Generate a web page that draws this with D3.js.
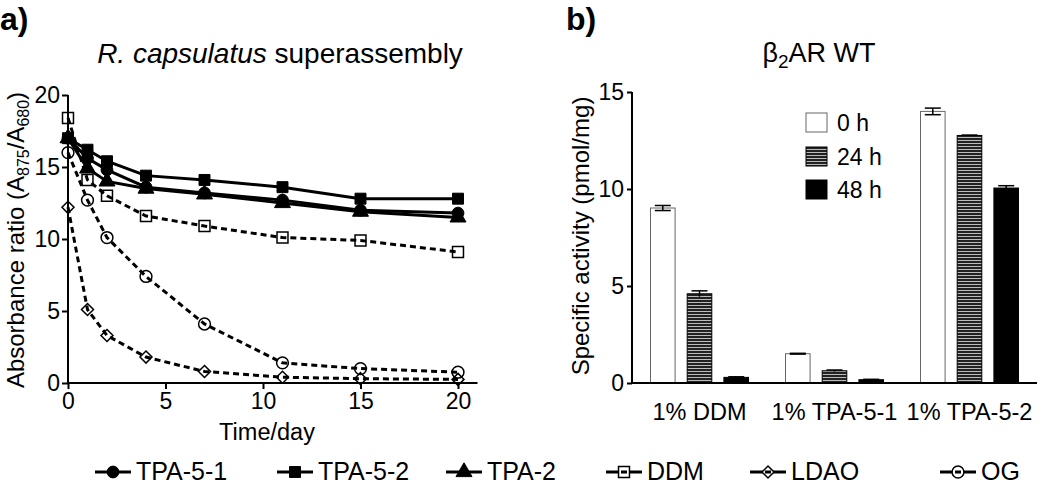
<!DOCTYPE html>
<html>
<head>
<meta charset="utf-8">
<script src="https://cdn.jsdelivr.net/npm/d3@7"></script>
<style>
  body { margin: 0; background: #fff; }
  svg text { font-family: "Liberation Sans", Arial, sans-serif; fill: #000; }
</style>
</head>
<body>
<div id="chart"></div>
<script>
// panel a data
var days = [0, 1, 2, 4, 7, 11, 15, 20];
var tpa51 = [17.0, 15.6, 14.8, 13.6, 13.2, 12.7, 12.0, 11.8];
var tpa52 = [17.0, 16.2, 15.4, 14.4, 14.1, 13.6, 12.8, 12.8];
var tpa2 = [17.0, 14.9, 14.0, 13.5, 13.1, 12.5, 11.9, 11.5];
var ddm = [18.4, 14.1, 13.0, 11.6, 10.9, 10.1, 9.9, 9.1];
var ldao = [12.2, 5.1, 3.3, 1.8, 0.8, 0.4, 0.3, 0.25];
var og = [16.0, 12.7, 10.1, 7.4, 4.1, 1.4, 1.0, 0.75];
var seriesNames = ["TPA-5-1", "TPA-5-2", "TPA-2", "DDM", "LDAO", "OG"];
var xTicksA = [0, 5, 10, 15, 20];
var yTicksA = [0, 5, 10, 15, 20];

// panel b data
var groups = ["1% DDM", "1% TPA-5-1", "1% TPA-5-2"];
var times = ["0 h", "24 h", "48 h"];
var act0 = [9.02, 1.51, 14.0], err0 = [0.13, 0.02, 0.17];
var act24 = [4.6, 0.63, 12.76], err24 = [0.15, 0.04, 0.02];
var act48 = [0.29, 0.17, 10.05], err48 = [0.03, 0.02, 0.12];
var yTicksB = [0, 5, 10, 15];

var svg = d3.select("#chart").append("svg")
  .attr("width", 1050).attr("height", 486);

var defs = svg.append("defs");
var pat = defs.append("pattern")
  .attr("id", "stripes").attr("patternUnits", "userSpaceOnUse")
  .attr("width", 6).attr("height", 3);
pat.append("rect").attr("width", 6).attr("height", 3).attr("fill", "#222");
pat.append("rect").attr("y", 2).attr("width", 6).attr("height", 1).attr("fill", "#bbb");

// ---------- panel a ----------
var series = [
  {name: seriesNames[0], vals: tpa51, shape: "circle", open: false},
  {name: seriesNames[1], vals: tpa52, shape: "square", open: false},
  {name: seriesNames[2], vals: tpa2, shape: "triangle", open: false},
  {name: seriesNames[3], vals: ddm, shape: "square", open: true},
  {name: seriesNames[4], vals: ldao, shape: "diamond", open: true},
  {name: seriesNames[5], vals: og, shape: "circle", open: true}
];

var x = d3.scaleLinear().domain([0, 21]).range([68, 477.5]);
var y = d3.scaleLinear().domain([0, 20]).range([383, 95]);

// wide diamond (square turned 45deg), d3's own diamond is too thin
var wideDiamond = {
  draw: function(ctx, size) {
    var r = Math.sqrt(size / 2);
    ctx.moveTo(0, -r); ctx.lineTo(r, 0); ctx.lineTo(0, r); ctx.lineTo(-r, 0); ctx.closePath();
  }
};
var symSize = {circle: 110, square: 120, triangle: 110, diamond: 72};
function sym(shape) {
  var t = {circle: d3.symbolCircle, square: d3.symbolSquare,
    triangle: d3.symbolTriangle, diamond: wideDiamond}[shape];
  return d3.symbol().type(t).size(symSize[shape])();
}

var ga = svg.append("g");
ga.append("g").attr("transform", "translate(0,383)")
  .call(d3.axisBottom(x).tickValues(xTicksA).tickSize(6).tickPadding(4))
  .call(g => g.select(".domain").attr("stroke-width", 2).attr("d", "M68,0H477.5"))
  .call(g => g.selectAll(".tick line").attr("stroke-width", 2))
  .call(g => g.selectAll("text").attr("font-size", 23));
ga.append("g").attr("transform", "translate(68,0)")
  .call(d3.axisLeft(y).tickValues(yTicksA).tickSize(6).tickPadding(2))
  .call(g => g.select(".domain").attr("stroke-width", 2).attr("d", "M0,383V95"))
  .call(g => g.selectAll(".tick line").attr("stroke-width", 2))
  .call(g => g.selectAll("text").attr("font-size", 23));

var line = d3.line().x((d, i) => x(days[i])).y(d => y(d));
// dashed series first, solid ones on top
series.slice().reverse().forEach(function(s) {
  ga.append("path").attr("d", line(s.vals))
    .attr("fill", "none").attr("stroke", "#000").attr("stroke-width", 3)
    .attr("stroke-dasharray", s.open ? "6,4" : null);
  ga.selectAll(null).data(s.vals).enter().append("path")
    .attr("d", sym(s.shape))
    .attr("transform", (d, i) => "translate(" + x(days[i]) + "," + y(d) + ")")
    .attr("fill", s.open ? "none" : "#000")
    .attr("stroke", "#000").attr("stroke-width", s.open ? 1.5 : 1);
});

svg.append("text").attr("x", 0).attr("y", 30)
  .attr("font-size", 32).attr("font-weight", "bold").text("a)");

var ta = svg.append("text").attr("x", 280).attr("y", 63)
  .attr("text-anchor", "middle").attr("font-size", 28);
ta.append("tspan").attr("font-style", "italic").text("R. capsulatus");
ta.append("tspan").text(" superassembly");

var yla = svg.append("text").attr("transform", "translate(24,240) rotate(-90)")
  .attr("text-anchor", "middle").attr("font-size", 24);
yla.append("tspan").text("Absorbance ratio (A");
yla.append("tspan").attr("font-size", 16).attr("dy", 5).text("875");
yla.append("tspan").attr("dy", -5).text("/A");
yla.append("tspan").attr("font-size", 16).attr("dy", 5).text("680");
yla.append("tspan").attr("dy", -5).text(")");

svg.append("text").attr("x", 267).attr("y", 440)
  .attr("text-anchor", "middle").attr("font-size", 23.5).text("Time/day");

// legend a
var legX = [113, 295, 464, 624, 768, 958];
var lg = svg.append("g");
series.forEach(function(s, i) {
  var cx = legX[i];
  lg.append("line").attr("x1", cx - 18).attr("x2", cx + 18)
    .attr("y1", 472).attr("y2", 472)
    .attr("stroke", "#000").attr("stroke-width", 3);
  lg.append("path").attr("d", sym(s.shape))
    .attr("transform", "translate(" + cx + ",472)")
    .attr("fill", s.open ? "#fff" : "#000")
    .attr("stroke", "#000").attr("stroke-width", s.open ? 1.5 : 1);
  if (s.open) {
    lg.append("line").attr("x1", cx - 3).attr("x2", cx + 3)
      .attr("y1", 472).attr("y2", 472).attr("stroke", "#000").attr("stroke-width", 3);
  }
  lg.append("text").attr("x", cx + 23).attr("y", 480)
    .attr("font-size", 25).text(s.name);
});

// ---------- panel b ----------
var x0 = d3.scaleBand().domain(groups).range([632, 1037]);
var x1 = d3.scaleBand().domain(times).range([18.5, 116.5]).paddingInner(0.33);
var yb = d3.scaleLinear().domain([0, 15]).range([383, 92]);

var gb = svg.append("g");
var rows = [];
groups.forEach(function(g, i) {
  rows.push({g: g, t: times[0], v: act0[i], e: err0[i]});
  rows.push({g: g, t: times[1], v: act24[i], e: err24[i]});
  rows.push({g: g, t: times[2], v: act48[i], e: err48[i]});
});
var fills = {"0 h": "#fff", "24 h": "url(#stripes)", "48 h": "#000"};

gb.selectAll("rect.bar").data(rows).enter().append("rect")
  .attr("x", d => x0(d.g) + x1(d.t))
  .attr("y", d => yb(d.v))
  .attr("width", x1.bandwidth())
  .attr("height", d => yb(0) - yb(d.v))
  .attr("fill", d => fills[d.t])
  .attr("stroke", d => d.t === "0 h" ? "#666" : "#000")
  .attr("stroke-width", 1);

var eb = gb.selectAll("g.err").data(rows).enter().append("g")
  .attr("transform", d => "translate(" + (x0(d.g) + x1(d.t) + x1.bandwidth() / 2) + ",0)");
eb.append("line").attr("y1", d => yb(d.v + d.e)).attr("y2", d => yb(d.v - d.e))
  .attr("stroke", "#000").attr("stroke-width", 1.5);
eb.append("line").attr("x1", -8).attr("x2", 8)
  .attr("y1", d => yb(d.v + d.e)).attr("y2", d => yb(d.v + d.e))
  .attr("stroke", "#000").attr("stroke-width", 1.5);
eb.append("line").attr("x1", -8).attr("x2", 8)
  .attr("y1", d => yb(d.v - d.e)).attr("y2", d => yb(d.v - d.e))
  .attr("stroke", d => d.t === "0 h" ? "#000" : "none").attr("stroke-width", 1.5);

gb.append("g").attr("transform", "translate(0,383)")
  .call(d3.axisBottom(x0).tickSize(0).tickPadding(20))
  .call(g => g.select(".domain").attr("stroke-width", 2).attr("d", "M632,0H1037"))
  .call(g => g.selectAll("text").attr("font-size", 23.5));
gb.append("g").attr("transform", "translate(632,0)")
  .call(d3.axisLeft(yb).tickValues(yTicksB).tickSize(5).tickPadding(3))
  .call(g => g.select(".domain").attr("stroke-width", 2).attr("d", "M0,383V92"))
  .call(g => g.selectAll(".tick line").attr("stroke-width", 2))
  .call(g => g.selectAll("text").attr("font-size", 23));

svg.append("text").attr("x", 566).attr("y", 30)
  .attr("font-size", 32).attr("font-weight", "bold").text("b)");

var tb = svg.append("text").attr("x", 819).attr("y", 62)
  .attr("text-anchor", "middle").attr("font-size", 27);
tb.append("tspan").text("β");
tb.append("tspan").attr("font-size", 19).attr("dy", 6).text("2");
tb.append("tspan").attr("dy", -6).text("AR WT");

svg.append("text").attr("transform", "translate(589,236) rotate(-90)")
  .attr("text-anchor", "middle").attr("font-size", 24)
  .text("Specific activity (pmol/mg)");

// legend b
var legY = [113, 147, 180];
times.forEach(function(t, i) {
  svg.append("rect").attr("x", 806).attr("y", legY[i])
    .attr("width", 21).attr("height", 19)
    .attr("fill", fills[t]).attr("stroke", t === "0 h" ? "#666" : "#000");
  svg.append("text").attr("x", 837).attr("y", legY[i] + 18)
    .attr("font-size", 23).text(t);
});
</script>
</body>
</html>
